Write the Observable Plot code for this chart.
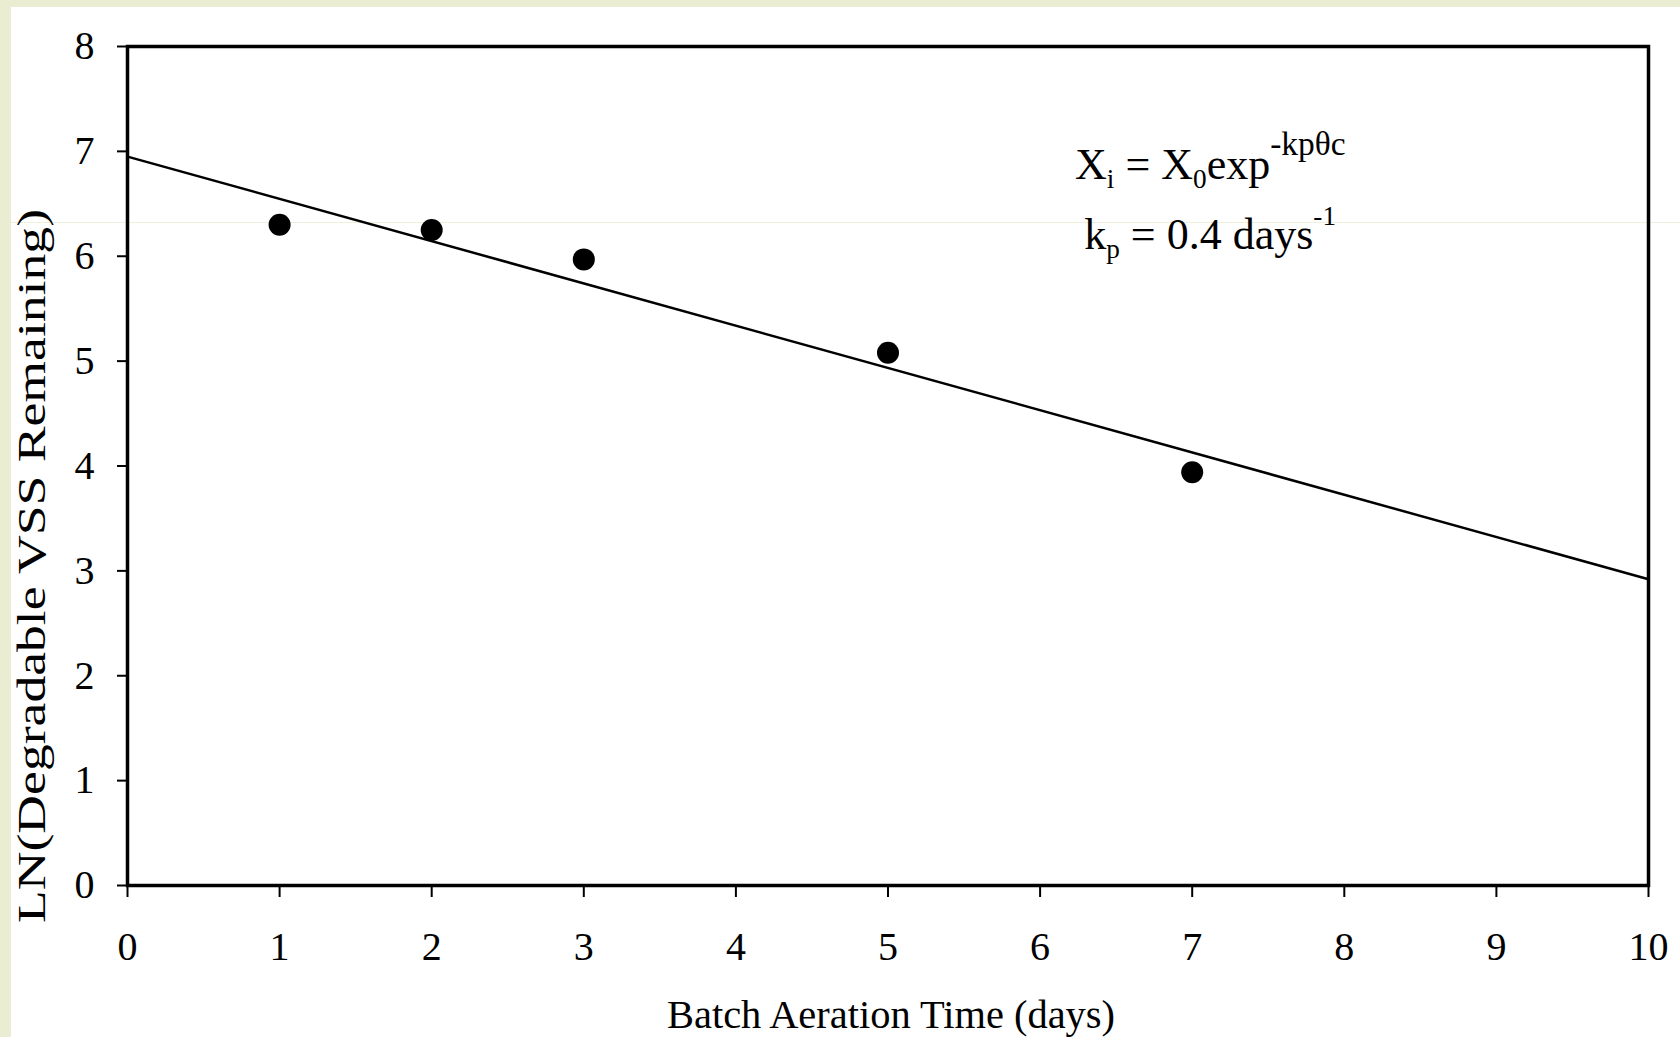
<!DOCTYPE html>
<html><head><meta charset="utf-8">
<script src="https://cdn.jsdelivr.net/npm/d3@7"></script>
<script src="https://cdn.jsdelivr.net/npm/@observablehq/plot@0.6"></script>
<style>
html,body{margin:0;padding:0;}
body{width:1680px;height:1037px;overflow:hidden;position:relative;background:
 linear-gradient(to right, #eaedd1 0 11px, transparent 11px),
 linear-gradient(to bottom, #eaedd1 0 7px, transparent 7px, transparent 222px, #eef0dc 222px, #eef0dc 223px, transparent 223px), #ffffff;}
#chart{position:absolute;left:0;top:0;}
</style></head><body><div id="chart"></div>
<script>
// Data
const days = [1, 2, 3, 5, 7];
const lnVSS = [6.30, 6.25, 5.97, 5.08, 3.94];
const fitDays = [0, 10];
const fitLn = [6.95, 2.92];
const xTicks = [0, 1, 2, 3, 4, 5, 6, 7, 8, 9, 10];
const yTicks = [0, 1, 2, 3, 4, 5, 6, 7, 8];
const xLabel = "Batch Aeration Time (days)";
const yLabel = "LN(Degradable VSS Remaining)";
const eqLines = ["Xi = X0exp-kpθc", "kp = 0.4 days-1"];

const eqParts = [
  [["X"], ["i", "sub"], [" = X"], ["0", "sub"], ["exp"], ["-kpθc", "sup", 0.76]],
  [["k"], ["p", "sub"], [" = 0.4 days"], ["-1", "sup"]]
];

const eqTable = [
  {text: eqLines[0], x: 6.23, y: 6.74},
  {text: eqLines[1], x: 6.29, y: 6.07}
];

const fmt = d => String(d);

const chart = Plot.plot({
  width: 1680,
  height: 1037,
  marginLeft: 127,
  marginRight: 32,
  marginTop: 46,
  marginBottom: 152,
  style: {fontFamily: "'Liberation Serif', 'Times New Roman', serif", background: "transparent", color: "black"},
  x: {domain: [0, 10]},
  y: {domain: [0, 8]},
  marks: [
    Plot.axisX(xTicks, {tickSize: 12, tickPadding: 34, fontSize: 40, strokeWidth: 2, label: null, tickFormat: fmt}),
    Plot.axisY(yTicks, {tickSize: 10, tickPadding: 23, fontSize: 40, strokeWidth: 2, label: null, tickFormat: fmt}),
    Plot.frame({stroke: "black", strokeWidth: 3.5}),
    Plot.line({length: fitDays.length}, {x: fitDays, y: fitLn, stroke: "black", strokeWidth: 2.5}),
    Plot.dot(days, {x: days, y: lnVSS, r: 11, fill: "black"}),
    Plot.text([yLabel], {frameAnchor: "left", rotate: -90, textAnchor: "start", dx: -95, dy: 457, fontSize: 40, fill: "black"}),
    Plot.text([xLabel], {frameAnchor: "bottom", lineAnchor: "bottom", textAnchor: "start", dx: -221, dy: 142, fontSize: 40, fill: "black"}),
    Plot.text(eqTable, {x: "x", y: "y", text: "text", textAnchor: "start", lineAnchor: "bottom", fontSize: 44, fill: "black"})
  ]
});
document.getElementById("chart").appendChild(chart);

d3.select(chart).selectAll("text").each(function () {
  const t = this.textContent;
  if (t === yLabel) {
    this.setAttribute("textLength", 714);
    this.setAttribute("lengthAdjust", "spacingAndGlyphs");
  } else if (t === xLabel) {
    this.setAttribute("textLength", 448);
    this.setAttribute("lengthAdjust", "spacingAndGlyphs");
  } else {
    const k = eqLines.indexOf(t);
    if (k < 0) return;
    const el = d3.select(this);
    el.text(null);
    let cur = 0;
    for (const [s, kind, size] of eqParts[k]) {
      const target = kind === "sub" ? 9 : kind === "sup" ? -24 : 0;
      const ts = el.append("tspan").text(s).attr("dy", (target - cur) + "px");
      if (kind) ts.attr("font-size", (size || 0.62) + "em");
      cur = target;
    }
  }
});
</script>
</body></html>
